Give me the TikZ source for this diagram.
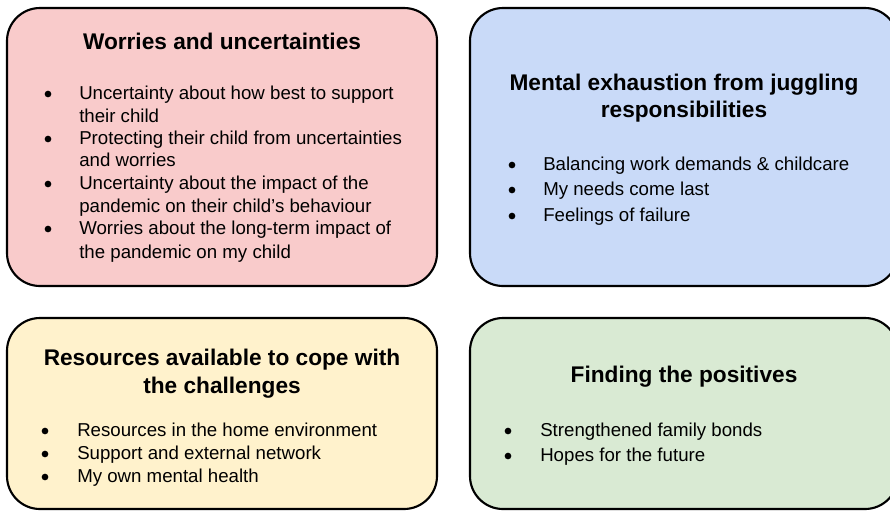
\documentclass[tikz,border=0pt]{standalone}
\usepackage{fontspec}
\setmainfont{Liberation Sans}
\definecolor{worrybg}{HTML}{F9CBCB}
\definecolor{mentalbg}{HTML}{C9DAF8}
\definecolor{resourcebg}{HTML}{FFF2CC}
\definecolor{positivebg}{HTML}{D9EAD3}
\begin{document}
\begin{tikzpicture}[x=0.75pt,y=-0.75pt,
  box/.style={draw=black,line width=1.6pt,rounded corners=24.75pt},
  head/.style={anchor=base,inner sep=0pt,font=\fontsize{17}{20.6}\selectfont\bfseries},
  item/.style={anchor=base west,inner sep=0pt,font=\fontsize{14}{16.8}\selectfont}]
\useasboundingbox (0,0) rectangle (890,512);

\draw[box,fill=worrybg] (7,8) rectangle (437,286);
\draw[box,fill=mentalbg] (470,8) rectangle (898,286);
\draw[box,fill=resourcebg] (7,318) rectangle (437,509);
\draw[box,fill=positivebg] (470,318) rectangle (898,509);

\node[head] (worry) at (222,49) {Worries and uncertainties};
\node[item] (w1a) at (79,99) {Uncertainty about how best to support};
\node[item] (w1b) at (79,122) {their child};
\node[item] (w2a) at (79,144) {Protecting their child from uncertainties};
\node[item] (w2b) at (79,166) {and worries};
\node[item] (w3a) at (79,189) {Uncertainty about the impact of the};
\node[item] (w3b) at (79,212) {pandemic on their child’s behaviour};
\node[item] (w4a) at (79,234) {Worries about the long-term impact of};
\node[item] (w4b) at (79,258) {the pandemic on my child};
\fill (48,94) circle (2.5pt);
\fill (48,139) circle (2.5pt);
\fill (48,184) circle (2.5pt);
\fill (48,229) circle (2.5pt);

\node[head] (mentala) at (684,90) {Mental exhaustion from juggling};
\node[head] (mentalb) at (684,117) {responsibilities};
\node[item] (m1) at (543,170) {Balancing work demands \& childcare};
\node[item] (m2) at (543,195) {My needs come last};
\node[item] (m3) at (543,221) {Feelings of failure};
\fill (512,165) circle (2.5pt);
\fill (512,190) circle (2.5pt);
\fill (512,216) circle (2.5pt);

\node[head] (resourcea) at (222,365) {Resources available to cope with};
\node[head] (resourceb) at (222,393) {the challenges};
\node[item] (r1) at (77,436) {Resources in the home environment};
\node[item] (r2) at (77,459) {Support and external network};
\node[item] (r3) at (77,482) {My own mental health};
\fill (45,431) circle (2.5pt);
\fill (45,454) circle (2.5pt);
\fill (45,477) circle (2.5pt);

\node[head] (positive) at (684,382) {Finding the positives};
\node[item] (p1) at (540,436) {Strengthened family bonds};
\node[item] (p2) at (540,461) {Hopes for the future};
\fill (508,431) circle (2.5pt);
\fill (508,456) circle (2.5pt);
\end{tikzpicture}
\end{document}
